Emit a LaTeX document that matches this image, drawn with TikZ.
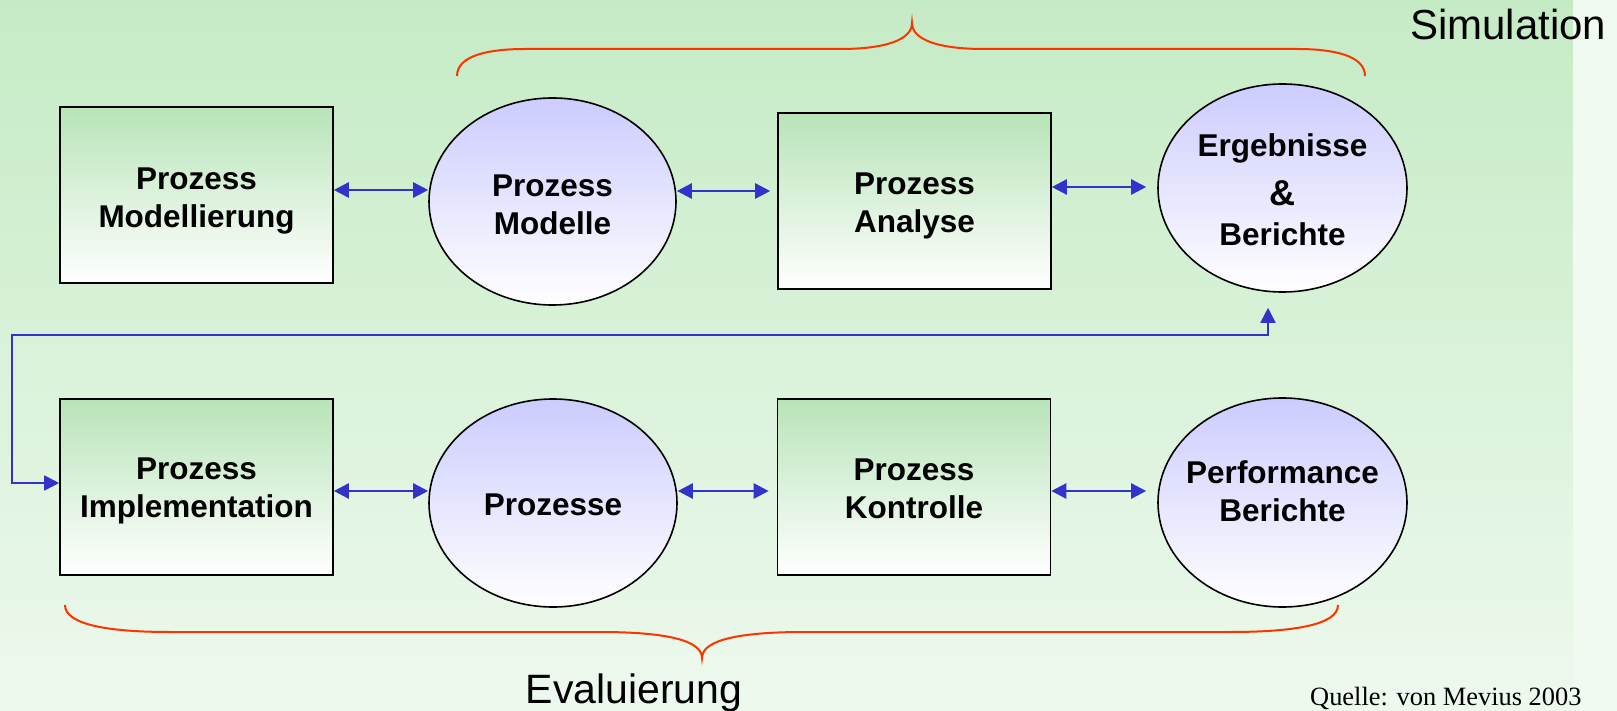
\documentclass[tikz,border=0pt]{standalone}
\usepackage{fontspec}
\setmainfont{Liberation Sans}
\newfontfamily\quellefont{Liberation Serif}
\usetikzlibrary{arrows.meta,shapes.geometric}
\definecolor{bgtop}{RGB}{197,235,197}
\definecolor{bgbot}{RGB}{238,249,238}
\definecolor{stripcol}{RGB}{240,250,240}
\definecolor{boxtop}{RGB}{184,228,184}
\definecolor{elltop}{RGB}{204,204,255}
\definecolor{arrowblue}{RGB}{51,51,204}
\definecolor{bracered}{RGB}{255,51,0}
\begin{document}
\begin{tikzpicture}[x=1pt,y=-1pt,
  boxfont/.style={font=\fontsize{31.5}{38}\selectfont\bfseries},
  procbox/.style={rectangle,draw=black,line width=1.6pt,top color=boxtop,bottom color=white,
    minimum width=273pt,minimum height=176pt,inner sep=0pt},
  procell/.style={ellipse,draw=black,line width=1.6pt,top color=elltop,bottom color=white,
    inner sep=0pt},
  proctext/.style={inner sep=0pt,align=center,boxfont},
  biarrow/.style={draw=arrowblue,line width=2.5pt,{Triangle[length=15pt,width=15pt]}-{Triangle[length=15pt,width=15pt]}},
  fbarrow/.style={draw=arrowblue,line width=1.8pt,{Triangle[length=15pt,width=15pt]}-{Triangle[length=15pt,width=15pt]}},
  bracestyle/.style={draw=bracered,line width=2pt},
  bigtext/.style={inner sep=0pt,font=\fontsize{42}{48}\selectfont}
]
\useasboundingbox (0,0) rectangle (1617,711);
% background
\fill[top color=bgtop,bottom color=bgbot] (0,0) rectangle (1573,711);
\fill[stripcol] (1573,0) rectangle (1617,711);

% top row
\node[procbox] (mod) at (196.5,195) {};
\node[proctext] (modtxt) at ([yshift=-6pt]mod.center) {Prozess\\Modellierung};
\node[procell,minimum width=247pt,minimum height=207pt] (mdl) at (552.5,201.5) {};
\node[proctext] (mdltxt) at ([yshift=-3pt]mdl.center) {Prozess\\Modelle};
\node[procbox] (ana) at (914.5,201) {};
\node[proctext] (anatxt) at ([yshift=-5pt]ana.center) {Prozess\\Analyse};
\node[procell,minimum width=249pt,minimum height=208pt] (erg) at (1282.5,188) {};
\node[proctext] (ergtxt) at ([yshift=-2pt]erg.center)
  {Ergebnisse\\[11pt]{\fontsize{36}{38}\selectfont\&}\\[2pt]Berichte};

% bottom row
\node[procbox] (impl) at (196.5,487) {};
\node[proctext] (impltxt) at ([yshift=-4pt]impl.center) {Prozess\\Implementation};
\node[procell,minimum width=248pt,minimum height=208pt] (proz) at (553,503) {};
\node[proctext] (proztxt) at ([yshift=-2pt]proz.center) {Prozesse};
\node[procbox] (kon) at (914,487) {};
\node[proctext] (kontxt) at ([yshift=-2pt]kon.center) {Prozess\\Kontrolle};
\node[procell,minimum width=249pt,minimum height=209pt] (perf) at (1282.5,502.5) {};
\node[proctext] (perftxt) at ([yshift=11pt]perf.center) {Performance\\Berichte};

% row coordinates for arrows
\coordinate (ya) at (0,190);
\coordinate (yb) at (0,191);
\coordinate (yc) at (0,187);
\coordinate (yd) at (0,491);

\draw[biarrow] (mod.east |- ya) -- (mdl.west |- ya);
\draw[biarrow,shorten >=7pt] (mdl.east |- yb) -- (ana.west |- yb);
\draw[biarrow,shorten >=11pt] (ana.east |- yc) -- (erg.west |- yc);
\draw[biarrow] (impl.east |- yd) -- (proz.west |- yd);
\draw[biarrow,shorten >=8pt] (proz.east |- yd) -- (kon.west |- yd);
\draw[biarrow,shorten >=11pt] (kon.east |- yd) -- (perf.west |- yd);

% feedback connector
\coordinate (fbcorner) at (12,335);
\coordinate (fbtip) at ([xshift=-14.5pt,yshift=-15pt]erg.south);
\draw[fbarrow] ([yshift=4pt]impl.west) -| (fbcorner) -| (fbtip);

% braces
\draw[bracestyle] (457,76) .. controls (457,55) and (490,49) .. (525,49) -- (840,49)
  .. controls (885,49) and (912,40) .. (912,23)
  .. controls (912,40) and (939,49) .. (984,49) -- (1297,49)
  .. controls (1332,49) and (1365,55) .. (1365,76);
\draw[bracestyle] (65,605) .. controls (65,625) and (110,632) .. (170,632) -- (600,632)
  .. controls (665,632) and (702,640) .. (702,658)
  .. controls (702,640) and (739,632) .. (804,632) -- (1230,632)
  .. controls (1293,632) and (1338,625) .. (1338,605);

% labels
\node[bigtext,anchor=base west] (sim) at (1410,40) {Simulation};
\node[bigtext,anchor=base,font=\fontsize{41}{48}\selectfont] (eval) at (634,703) {Evaluierung};
\node[inner sep=0pt,anchor=base west,font=\quellefont\fontsize{26.4}{30}\selectfont] (quelle) at (1310,705) {Quelle: von Mevius 2003};
\end{tikzpicture}
\end{document}
